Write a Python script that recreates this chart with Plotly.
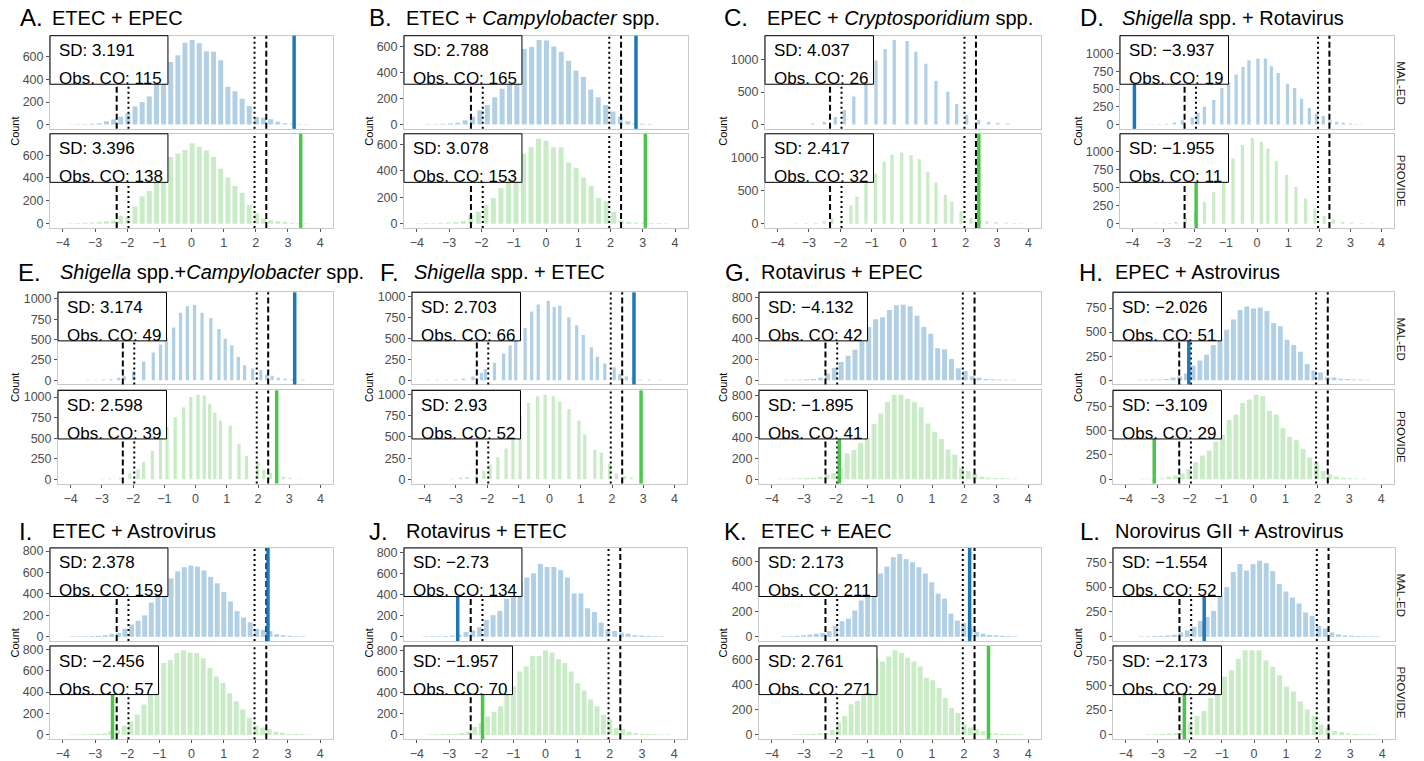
import plotly.graph_objects as go

# ------------------------------------------------------------------ data
panel_tags = ["A", "B", "C", "D", "E", "F", "G", "H", "I", "J", "K", "L"]
panel_titles = [
    "ETEC + EPEC",
    "ETEC + <i>Campylobacter</i> spp.",
    "EPEC + <i>Cryptosporidium</i> spp.",
    "<i>Shigella</i> spp. + Rotavirus",
    "<i>Shigella</i> spp.+<i>Campylobacter</i> spp.",
    "<i>Shigella</i> spp. + ETEC",
    "Rotavirus + EPEC",
    "EPEC + Astrovirus",
    "ETEC + Astrovirus",
    "Rotavirus + ETEC",
    "ETEC + EAEC",
    "Norovirus GII + Astrovirus",
]
cohorts = ["MAL-ED", "PROVIDE"]
sd_maled = [3.191, 2.788, 4.037, -3.937, 3.174, 2.703, -4.132, -2.026, 2.378, -2.73, 2.173, -1.554]
sd_provide = [3.396, 3.078, 2.417, -1.955, 2.598, 2.93, -1.895, -3.109, -2.456, -1.957, 2.761, -2.173]
obs_co_maled = [115, 165, 26, 19, 49, 66, 42, 51, 159, 134, 211, 52]
obs_co_provide = [138, 153, 32, 11, 39, 52, 41, 29, 57, 70, 271, 29]
x_ticks = [-4, -3, -2, -1, 0, 1, 2, 3, 4]
x_limits = [-4, 4]
y_tick_steps = [200, 200, 500, 250, 250, 250, 200, 250, 200, 200, 200, 250]
z_dotted = 1.96
z_dashed = 2.326

# regular histogram bins: first bin centre, bin width, counts
A_maled_start, A_maled_step = -3.754, 0.222
A_maled_counts = [4, 5, 6, 8, 12, 30, 45, 70, 100, 160, 200, 250, 380, 420, 555, 615, 725, 750, 720, 650, 645, 570,
                  335, 295, 230, 165, 68, 60, 47, 25, 12, 8, 6, 4]
A_provide_start, A_provide_step = -3.754, 0.222
A_provide_counts = [4, 5, 7, 10, 14, 20, 30, 70, 60, 150, 240, 285, 360, 420, 585, 615, 645, 705, 675, 640, 585, 480,
                    405, 330, 270, 165, 90, 45, 30, 20, 15, 8, 6, 4]
B_maled_start, B_maled_step = -3.65, 0.229
B_maled_counts = [4, 5, 6, 9, 14, 33, 60, 110, 150, 210, 275, 330, 465, 580, 595, 650, 645, 600, 560, 490, 415, 365,
                  270, 210, 150, 100, 60, 25, 10, 6, 4]
B_provide_start, B_provide_step = -3.96, 0.233
B_provide_counts = [3, 4, 5, 6, 8, 12, 20, 65, 90, 140, 195, 270, 400, 475, 530, 580, 645, 630, 580, 580, 465, 425,
                    350, 285, 195, 170, 90, 25, 13, 8, 6, 5, 4, 3]
G_maled_start, G_maled_step = -3.555, 0.215
G_maled_counts = [5, 5, 7, 9, 12, 25, 65, 120, 177, 237, 295, 375, 515, 590, 610, 680, 725, 730, 715, 625, 515, 450,
                  310, 300, 205, 115, 90, 40, 25, 12, 9, 7, 5, 5]
G_provide_start, G_provide_step = -3.75, 0.21
G_provide_counts = [5, 6, 8, 10, 12, 15, 25, 45, 60, 110, 250, 280, 350, 400, 530, 630, 740, 810, 810, 770, 740, 690,
                    535, 455, 385, 285, 235, 110, 80, 55, 25, 15, 12, 9, 7, 5]
H_maled_start, H_maled_step = -3.57, 0.21
H_maled_counts = [5, 5, 7, 9, 12, 30, 40, 70, 150, 205, 265, 365, 435, 525, 630, 730, 765, 745, 755, 720, 595, 560,
                  420, 365, 295, 170, 100, 80, 35, 28, 15, 12, 9, 7, 5]
H_provide_start, H_provide_step = -3.49, 0.21
H_provide_counts = [5, 6, 8, 12, 25, 40, 60, 105, 175, 245, 295, 385, 455, 610, 665, 785, 820, 870, 855, 705, 665,
                    525, 435, 400, 315, 225, 175, 85, 50, 28, 15, 10, 7, 5]
I_maled_start, I_maled_step = -3.71, 0.205
I_maled_counts = [5, 5, 6, 8, 10, 15, 25, 35, 75, 115, 150, 200, 320, 390, 450, 545, 610, 650, 665, 655, 620, 560,
                  500, 420, 330, 240, 180, 135, 75, 65, 55, 25, 15, 10, 7, 5]
I_provide_start, I_provide_step = -3.735, 0.205
I_provide_counts = [5, 5, 6, 8, 10, 15, 35, 50, 85, 125, 190, 285, 390, 485, 670, 700, 765, 790, 770, 765, 715, 625,
                    545, 485, 390, 315, 240, 160, 85, 70, 55, 30, 20, 12, 9, 7, 5]
J_maled_start, J_maled_step = -3.73, 0.21
J_maled_counts = [5, 5, 6, 8, 12, 20, 45, 60, 90, 160, 205, 245, 360, 405, 515, 560, 600, 690, 660, 660, 630, 560,
                  410, 410, 270, 235, 135, 70, 55, 40, 30, 15, 12, 9, 7, 5]
J_provide_start, J_provide_step = -3.6, 0.2
J_provide_counts = [5, 6, 8, 10, 12, 18, 30, 75, 110, 175, 220, 270, 380, 460, 600, 650, 745, 745, 800, 780, 715, 680,
                    600, 490, 420, 335, 270, 190, 145, 65, 55, 30, 18, 12, 9, 7, 5, 5]
K_maled_start, K_maled_step = -3.61, 0.2
K_maled_counts = [5, 6, 8, 12, 18, 25, 30, 45, 85, 125, 145, 210, 290, 320, 420, 505, 560, 635, 660, 620, 595, 555,
                  505, 435, 345, 305, 185, 130, 110, 75, 40, 25, 15, 12, 9, 7, 5]
K_provide_start, K_provide_step = -3.29, 0.196
K_provide_counts = [5, 6, 8, 10, 12, 18, 40, 100, 150, 245, 270, 360, 495, 615, 585, 625, 675, 655, 615, 585, 545,
                    455, 435, 375, 295, 215, 175, 85, 60, 45, 30, 18, 12, 9, 7, 5, 5]
L_maled_start, L_maled_step = -3.515, 0.205
L_maled_counts = [5, 6, 8, 10, 14, 20, 45, 65, 100, 160, 200, 260, 415, 500, 650, 730, 665, 730, 765, 740, 660, 530,
                  455, 395, 335, 245, 210, 110, 85, 45, 25, 15, 12, 9, 7, 6, 5]
L_provide_start, L_provide_step = -3.285, 0.215
L_provide_counts = [5, 7, 10, 14, 20, 60, 120, 190, 240, 370, 450, 585, 650, 765, 850, 850, 850, 750, 685, 600, 485,
                    435, 335, 255, 190, 105, 70, 40, 30, 15, 10, 8, 6, 5]

# irregular (discrete) histogram bars: bar centres and counts
C_maled_x = [-2.88, -2.51, -2.16, -1.87, -1.57, -1.18, -0.86, -0.57, -0.28, 0.13, 0.41, 0.73, 1.05, 1.43, 1.71, 2.03,
             2.41, 2.73, 3.02, 3.34]
C_maled_counts = [15, 40, 115, 225, 430, 650, 985, 1160, 1300, 1285, 1120, 935, 670, 505, 315, 150, 75, 40, 25, 15]
C_provide_x = [-3.41, -3.1, -2.78, -2.51, -2.27, -1.96, -1.66, -1.47, -1.18, -0.88, -0.6, -0.35, -0.04, 0.26, 0.52,
               0.79, 1.05, 1.35, 1.56, 1.85, 2.17, 2.44, 2.67, 2.97, 3.29, 3.55, 3.77]
C_provide_counts = [5, 8, 10, 35, 85, 60, 275, 410, 640, 760, 940, 1050, 1080, 1040, 980, 790, 625, 440, 335, 185, 95,
                    60, 35, 25, 15, 10, 5]
D_maled_x = [-3.57, -3.35, -3.13, -2.91, -2.65, -2.4, -2.08, -1.9, -1.69, -1.39, -1.13, -0.91, -0.67, -0.45, -0.26,
             0.03, 0.27, 0.46, 0.68, 0.98, 1.21, 1.43, 1.68, 1.91, 2.13, 2.34, 2.56, 2.77, 3.0, 3.2, 3.36]
D_maled_counts = [5, 6, 8, 12, 28, 60, 100, 165, 250, 345, 515, 600, 705, 810, 905, 930, 930, 820, 725, 575, 515, 365,
                  235, 155, 120, 60, 40, 25, 15, 10, 6]
D_provide_x = [-3.24, -3.0, -2.8, -2.6, -2.3, -1.98, -1.69, -1.39, -1.07, -0.77, -0.47, -0.15, 0.14, 0.35, 0.62, 0.95,
               1.25, 1.56, 1.86, 2.16, 2.45, 2.75, 3.04, 3.36, 3.68]
D_provide_counts = [5, 7, 10, 23, 80, 160, 300, 440, 675, 905, 1095, 1190, 1140, 1045, 870, 675, 510, 350, 210, 105,
                    60, 25, 15, 10, 5]
E_maled_x = [-3.45, -3.2, -2.95, -2.7, -2.46, -2.28, -1.98, -1.66, -1.35, -1.12, -0.93, -0.7, -0.48, -0.26, -0.03,
             0.21, 0.49, 0.75, 0.95, 1.16, 1.37, 1.57, 1.83, 2.09, 2.28, 2.45, 2.65, 2.87, 3.1, 3.44]
E_maled_counts = [5, 6, 8, 12, 30, 50, 110, 230, 340, 440, 510, 650, 830, 910, 925, 830, 765, 630, 510, 430, 285, 185,
                  145, 125, 70, 55, 30, 20, 12, 8]
E_provide_x = [-3.24, -3.0, -2.75, -2.41, -2.1, -1.84, -1.66, -1.38, -1.12, -0.91, -0.65, -0.38, -0.15, 0.08, 0.28,
               0.45, 0.62, 0.8, 1.11, 1.39, 1.63, 1.99, 2.19, 2.4, 2.82, 3.02, 3.38]
E_provide_counts = [5, 7, 10, 20, 70, 120, 210, 345, 560, 640, 755, 875, 1000, 1030, 1020, 920, 810, 715, 655, 430,
                    285, 205, 115, 80, 33, 20, 8]
F_maled_x = [-3.9, -3.6, -3.3, -3.0, -2.75, -2.45, -2.18, -2.05, -1.76, -1.47, -1.26, -1.08, -0.78, -0.57, -0.36,
             -0.04, 0.15, 0.33, 0.62, 0.87, 1.08, 1.34, 1.53, 1.77, 2.07, 2.25, 2.46, 2.67, 2.9, 3.2, 3.52]
F_maled_counts = [5, 5, 6, 8, 20, 45, 90, 135, 210, 320, 415, 480, 625, 820, 905, 950, 875, 890, 750, 655, 540, 395,
                  280, 200, 155, 75, 45, 25, 10, 8, 5]
F_provide_x = [-3.75, -3.45, -3.1, -2.85, -2.64, -2.34, -2.1, -1.9, -1.65, -1.39, -1.17, -0.94, -0.67, -0.38, -0.14,
               0.12, 0.33, 0.62, 0.94, 1.13, 1.45, 1.66, 1.92, 2.14, 2.4, 2.62, 3.15, 3.5, 4.0]
F_provide_counts = [5, 5, 8, 20, 28, 45, 100, 175, 260, 365, 560, 750, 900, 980, 1000, 980, 920, 830, 695, 530, 350,
                    315, 185, 70, 40, 20, 6, 5, 5]


def bin_centres(start, step, counts):
    return [round(start + step * i, 4) for i in range(len(counts))]


hists = {
    "A": [(bin_centres(A_maled_start, A_maled_step, A_maled_counts), A_maled_counts),
          (bin_centres(A_provide_start, A_provide_step, A_provide_counts), A_provide_counts)],
    "B": [(bin_centres(B_maled_start, B_maled_step, B_maled_counts), B_maled_counts),
          (bin_centres(B_provide_start, B_provide_step, B_provide_counts), B_provide_counts)],
    "C": [(C_maled_x, C_maled_counts), (C_provide_x, C_provide_counts)],
    "D": [(D_maled_x, D_maled_counts), (D_provide_x, D_provide_counts)],
    "E": [(E_maled_x, E_maled_counts), (E_provide_x, E_provide_counts)],
    "F": [(F_maled_x, F_maled_counts), (F_provide_x, F_provide_counts)],
    "G": [(bin_centres(G_maled_start, G_maled_step, G_maled_counts), G_maled_counts),
          (bin_centres(G_provide_start, G_provide_step, G_provide_counts), G_provide_counts)],
    "H": [(bin_centres(H_maled_start, H_maled_step, H_maled_counts), H_maled_counts),
          (bin_centres(H_provide_start, H_provide_step, H_provide_counts), H_provide_counts)],
    "I": [(bin_centres(I_maled_start, I_maled_step, I_maled_counts), I_maled_counts),
          (bin_centres(I_provide_start, I_provide_step, I_provide_counts), I_provide_counts)],
    "J": [(bin_centres(J_maled_start, J_maled_step, J_maled_counts), J_maled_counts),
          (bin_centres(J_provide_start, J_provide_step, J_provide_counts), J_provide_counts)],
    "K": [(bin_centres(K_maled_start, K_maled_step, K_maled_counts), K_maled_counts),
          (bin_centres(K_provide_start, K_provide_step, K_provide_counts), K_provide_counts)],
    "L": [(bin_centres(L_maled_start, L_maled_step, L_maled_counts), L_maled_counts),
          (bin_centres(L_provide_start, L_provide_step, L_provide_counts), L_provide_counts)],
}

# ------------------------------------------------------------------ style / layout
FW, FH = 1424, 761
FONT = "Liberation Sans, Arial, Helvetica, sans-serif"
bar_fill = ["#b1d0e5", "#c9ecc7"]
obs_color = ["#1f78b4", "#4cc54c"]
bar_width = {"C": 0.105, "D": 0.105, "E": 0.105, "F": 0.105}
dense_bar_width = 0.155

plot_x_px = [(50, 333), (404, 688), (765, 1041), (1120, 1394),
             (58, 333), (412, 687), (759, 1041), (1113, 1394),
             (50, 333), (404, 687), (759, 1041), (1113, 1395)]
row_y_px = [[(33, 127), (132, 227)], [(292, 385), (391, 485)], [(550, 644), (649, 743)]]
title_y_px = [15, 272, 533]
tag_x_px = [18, 367, 722, 1078, 16, 378, 723, 1077, 17, 367, 722, 1078]
count_x_px = [15, 369, 723, 1078]
strip_x_px = 1401
BOX_H = 49

CW = {'S': .667, 'D': .722, ':': .278, ' ': .278, '−': .584, '.': .278, 'O': .778, 'b': .556, 's': .5, 'C': .722}


def text_w(s, size):
    return sum(CW.get(c, .556) for c in s) * size


def fmt_sd(v):
    return str(v).replace("-", "−")


fig = go.Figure()
layout = dict(width=FW, height=FH, margin=dict(l=0, r=0, t=0, b=0),
              paper_bgcolor="white", plot_bgcolor="white", showlegend=False,
              barmode="overlay", font=dict(family=FONT))
shapes, annotations = [], []

for i, tag in enumerate(panel_tags):
    row, col = divmod(i, 4)
    px0, px1 = plot_x_px[i]
    pw = px1 - px0
    M = max(max(hists[tag][0][1]), max(hists[tag][1][1]))
    yr = [-0.05 * M, 1.05 * M]
    sds = [sd_maled[i], sd_provide[i]]
    obs = [obs_co_maled[i], obs_co_provide[i]]
    bw = bar_width.get(tag, dense_bar_width)
    for f in range(2):
        n = i * 2 + f + 1
        xa = "x" if n == 1 else f"x{n}"
        ya = "y" if n == 1 else f"y{n}"
        xk = "xaxis" if n == 1 else f"xaxis{n}"
        yk = "yaxis" if n == 1 else f"yaxis{n}"
        py0, py1 = row_y_px[row][f]
        ph = py1 - py0
        xs, cs = hists[tag][f]
        fig.add_trace(go.Bar(x=xs, y=cs, width=bw, xaxis=xa, yaxis=ya,
                             marker=dict(color=bar_fill[f], line=dict(width=0)),
                             hoverinfo="skip"))
        layout[xk] = dict(domain=[px0 / FW, px1 / FW], anchor=ya, range=[-4.4, 4.4],
                          tickmode="array", tickvals=x_ticks,
                          showticklabels=(f == 1), ticks="outside" if f == 1 else "",
                          ticklen=3, tickcolor="#555555", tickwidth=1,
                          tickfont=dict(size=12.5, color="#4d4d4d", family=FONT),
                          showline=True, mirror=True, linecolor="#c8c8c8", linewidth=1,
                          showgrid=False, zeroline=False, fixedrange=True)
        layout[yk] = dict(domain=[1 - py1 / FH, 1 - py0 / FH], anchor=xa, range=yr,
                          tickmode="linear", tick0=0, dtick=y_tick_steps[i],
                          ticks="outside", ticklen=3, tickcolor="#555555", tickwidth=1,
                          tickfont=dict(size=12.5, color="#4d4d4d", family=FONT),
                          showline=True, mirror=True, linecolor="#c8c8c8", linewidth=1,
                          showgrid=False, zeroline=False, fixedrange=True)
        # reference lines
        for zv, dash in [(-z_dashed, "6px,3px"), (-z_dotted, "2px,3px"),
                         (z_dotted, "2px,3px"), (z_dashed, "6px,3px")]:
            shapes.append(dict(type="line", xref=xa, yref=f"{ya} domain", x0=zv, x1=zv, y0=0, y1=1,
                               line=dict(color="black", width=2, dash=dash), layer="above"))
        # observed value
        if x_limits[0] <= sds[f] <= x_limits[1]:
            shapes.append(dict(type="line", xref=xa, yref=f"{ya} domain", x0=sds[f], x1=sds[f],
                               y0=0, y1=1, line=dict(color=obs_color[f], width=3.5), layer="above"))
        # label box
        l1 = f"SD: {fmt_sd(sds[f])}"
        l2 = f"Obs. CO: {obs[f]}"
        bwid = max(text_w(l1, 17), text_w(l2, 17)) + 14
        shapes.append(dict(type="rect", xref=f"{xa} domain", yref=f"{ya} domain",
                           x0=0, x1=bwid / pw, y0=1 - BOX_H / ph, y1=1,
                           fillcolor="white", line=dict(color="black", width=1), layer="above"))
        for txt, ys in [(l1, -15), (l2, -43)]:
            annotations.append(dict(text=txt, xref=f"{xa} domain", yref=f"{ya} domain", x=0, y=1,
                                    xanchor="left", yanchor="middle", xshift=7, yshift=ys,
                                    showarrow=False, font=dict(size=17, color="black", family=FONT)))
        if col == 3:
            annotations.append(dict(text=cohorts[f], xref="paper", yref="paper",
                                    x=strip_x_px / FW, y=1 - (py0 + py1) / 2 / FH,
                                    xanchor="center", yanchor="middle", textangle=90, showarrow=False,
                                    font=dict(size=11.5, color="#1a1a1a", family=FONT)))
    # titles
    annotations.append(dict(text=f"{tag}.", xref="paper", yref="paper", x=tag_x_px[i] / FW,
                            y=1 - title_y_px[row] / FH, xanchor="left", yanchor="middle",
                            showarrow=False, font=dict(size=24, color="black", family=FONT)))
    annotations.append(dict(text=panel_titles[i], xref="paper", yref="paper", x=px0 / FW,
                            y=1 - title_y_px[row] / FH, xanchor="left", yanchor="middle",
                            showarrow=False, font=dict(size=20, color="black", family=FONT)))
    # y title
    annotations.append(dict(text="Count", xref="paper", yref="paper", x=count_x_px[col] / FW,
                            y=1 - (row_y_px[row][0][0] + row_y_px[row][1][1]) / 2 / FH,
                            xanchor="center", yanchor="middle", textangle=-90, showarrow=False,
                            font=dict(size=11, color="black", family=FONT)))

layout["shapes"] = shapes
layout["annotations"] = annotations
fig.update_layout(**layout)
fig.write_html("out.html", config={"displayModeBar": False, "staticPlot": True},
               post_script="document.body.style.margin='0';document.body.style.overflow='hidden';")
